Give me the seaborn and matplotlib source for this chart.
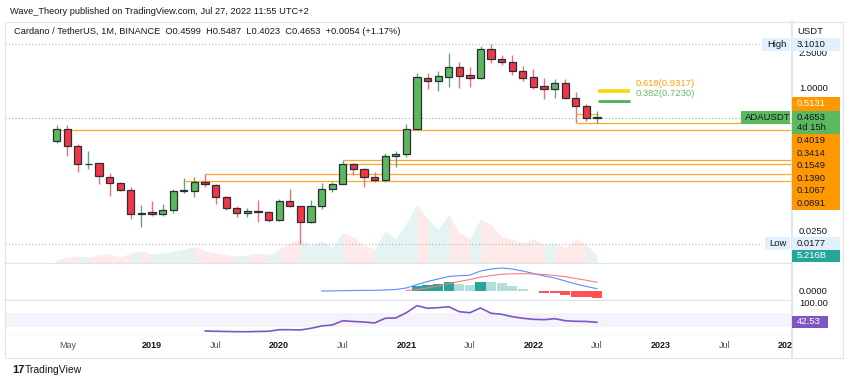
import matplotlib
matplotlib.use("Agg")
import matplotlib.pyplot as plt
from matplotlib.patches import Rectangle
import numpy as np
import pandas as pd
import seaborn as sns

# ADA/USDT monthly candles, Apr 2018 .. Jul 2022
months = pd.date_range("2018-04-01", "2022-07-01", freq="MS")
opens = [0.256, 0.3414, 0.219, 0.139, 0.141, 0.100, 0.0851, 0.0702, 0.0387, 0.0401,
         0.0381, 0.0429, 0.0696, 0.0702, 0.0879, 0.0813, 0.0591, 0.0445, 0.0391, 0.0412,
         0.0401, 0.0329, 0.0537, 0.0464, 0.031, 0.0472, 0.0733, 0.0834, 0.1390, 0.122,
         0.100, 0.0925, 0.171, 0.1813, 0.345, 1.295, 1.198, 1.339, 1.722, 1.375,
         1.305, 2.742, 2.117, 1.944, 1.552, 1.305, 1.045, 0.967, 1.129, 0.758,
         0.628, 0.4599]
highs = [0.387, 0.387, 0.235, 0.194, 0.145, 0.110, 0.0886, 0.0778, 0.0489, 0.0542,
         0.0501, 0.0727, 0.0982, 0.1008, 0.1067, 0.0834, 0.0616, 0.0472, 0.0445, 0.0553,
         0.0412, 0.0570, 0.0727, 0.0472, 0.0547, 0.0850, 0.0886, 0.1549, 0.145, 0.126,
         0.113, 0.1846, 0.1975, 0.391, 1.463, 1.463, 1.552, 2.454, 1.944, 1.708,
         2.964, 3.101, 2.349, 2.349, 1.753, 1.622, 1.285, 1.262, 1.252, 0.895,
         0.661, 0.5487]
lows = [0.243, 0.172, 0.115, 0.122, 0.0834, 0.0612, 0.0696, 0.0335, 0.0272, 0.0367,
        0.0367, 0.0391, 0.0656, 0.0591, 0.0778, 0.0493, 0.0431, 0.0351, 0.0353, 0.0316,
        0.031, 0.0323, 0.0464, 0.0177, 0.0305, 0.0434, 0.0684, 0.0828, 0.1045, 0.0766,
        0.0886, 0.0886, 0.1305, 0.169, 0.337, 0.974, 0.933, 1.018, 1.008, 1.018,
        1.262, 1.894, 1.799, 1.40, 1.198, 0.967, 0.747, 0.766, 0.758, 0.4019,
        0.423, 0.4023]
closes = [0.3414, 0.223, 0.139, 0.1405, 0.102, 0.0857, 0.0709, 0.0387, 0.0394, 0.0381,
          0.0426, 0.0696, 0.0702, 0.0879, 0.0834, 0.0601, 0.0449, 0.0391, 0.0412, 0.0403,
          0.0329, 0.0537, 0.0472, 0.031, 0.0469, 0.0733, 0.0828, 0.1390, 0.123, 0.1008,
          0.0933, 0.171, 0.1813, 0.345, 1.305, 1.198, 1.339, 1.708, 1.375, 1.305,
          2.742, 2.101, 1.959, 1.564, 1.305, 1.034, 0.967, 1.129, 0.766, 0.628,
          0.4599, 0.4653]
# volume, billions of ADA
volumes = [2.0, 4.0, 4.7, 4.0, 5.3, 6.0, 4.0, 6.7, 8.0, 6.0,
           6.7, 8.0, 9.3, 10.7, 8.0, 6.7, 5.3, 4.7, 5.3, 6.7,
           5.3, 9.3, 13.3, 16.0, 12.0, 14.7, 10.7, 20.0, 17.3, 12.0,
           9.3, 21.3, 16.0, 26.7, 38.7, 29.3, 22.7, 32.0, 20.0, 16.0,
           29.3, 25.3, 17.3, 16.0, 13.3, 16.0, 12.0, 13.3, 10.0, 16.0,
           12.0, 5.216]

# MACD line (from May 2020), signal line (from Jan 2021), histogram (from Feb 2021)
macd_line = [-0.5, -0.4, -0.2, 0.0, 0.1, 0.2, 0.5, 1.0, 2.5, 6.0,
             9.0, 11.5, 14.0, 14.8, 15.3, 19.5, 21.5, 22.5, 21.5, 19.5,
             17.0, 14.5, 12.5, 9.5, 6.5, 4.0, 1.8]
signal_line = [0.0, 1.0, 2.6, 4.5, 6.8, 9.0, 11.0, 13.3, 15.0, 16.2,
               16.7, 16.8, 16.6, 16.0, 15.0, 13.8, 12.0, 10.2, 8.2]
macd_hist = [4.5, 5.5, 6.5, 8.2, 6.4, 6.0, 8.8, 8.2, 7.2,
             4.5, 1.5, -0.3, -2.2, -2.8, -4.8, -6.5, -6.8, -7.2]

# RSI (from Jun 2019)
rsi = [17.7, 16.9, 16.3, 15.7, 15.7, 16.3, 16.9, 21.4, 21.4, 20.6,
       25.4, 32.0, 34.9, 47.1, 44.9, 43.4, 40.6, 54.0, 54.9, 70.0,
       90.0, 82.6, 84.3, 87.1, 72.9, 70.0, 83.4, 68.3, 65.4, 58.6,
       54.0, 51.1, 50.0, 52.9, 47.1, 45.4, 44.9, 42.53]

# horizontal levels drawn by the author: price, first month index, last month index
level_prices = [0.3414, 0.4019, 0.5131, 0.1549, 0.1390, 0.1067, 0.0891]
level_starts = [-0.44, 49.1, 49.1, 27.0, 27.0, 14.0, 12.1]
level_ends = [None, None, 51.1, None, None, None, None]

tick_months = [1, 9, 15, 21, 27, 33, 39, 45, 51, 57, 63, 69]
tick_labels = ["May", "2019", "Jul", "2020", "Jul", "2021", "Jul", "2022", "Jul", "2023", "Jul", "2024"]

sns.set_theme(style="white")
plt.rcParams["font.family"] = ["Liberation Sans", "DejaVu Sans"]

W, H = 850, 382
fig = plt.figure(figsize=(W / 100, H / 100), dpi=100)
fig.patch.set_facecolor("white")


def px_axes(x0, y0, x1, y1):
    return fig.add_axes([x0 / W, 1 - y1 / H, (x1 - x0) / W, (y1 - y0) / H])


def box(x0, y0, x1, y1, color, **kw):
    fig.add_artist(Rectangle((x0 / W, 1 - y1 / H), (x1 - x0) / W, (y1 - y0) / H,
                             transform=fig.transFigure, facecolor=color,
                             edgecolor="none", **kw))


def ftext(x, y, s, **kw):
    kw.setdefault("fontsize", 6.8)
    kw.setdefault("va", "center")
    fig.text(x / W, 1 - y / H, s, **kw)


XMIN, XMAX = -4.88, 69.4
x = np.arange(len(months))
o, h, l, c = map(np.array, (opens, highs, lows, closes))
up = c >= o

GREEN, RED, EDGE = "#5cb85c", "#f23645", "#2a2e39"
LINE = "#e0e3eb"

# ---- volume (behind the price panel)
ax_vol = px_axes(5, 22, 792, 263)
vol = np.array(volumes)
for i in range(len(x) - 1):
    col = "#26a69a" if up[i + 1] else "#ef5350"
    ax_vol.fill_between([x[i], x[i + 1]], 0, [vol[i], vol[i + 1]], color=col,
                        alpha=0.12, linewidth=0)
ax_vol.set_xlim(XMIN, XMAX)
ax_vol.set_ylim(0, 160)
ax_vol.axis("off")

# ---- price panel
ax = px_axes(5, 22, 792, 263)
ax.patch.set_alpha(0)
ax.set_yscale("log")
ax.set_xlim(XMIN, XMAX)
ax.set_ylim(0.01081, 5.51)

ax.vlines(x[up], l[up], h[up], color="#6b9e8c", linewidth=1.0, zorder=2)
ax.vlines(x[~up], l[~up], h[~up], color="#e5737f", linewidth=1.0, zorder=2)
body_lo = np.minimum(o, c)
body_hi = np.maximum(o, c) * 1.006
ax.bar(x, body_hi - body_lo, bottom=body_lo, width=0.68,
       color=np.where(up, GREEN, RED), edgecolor=EDGE, linewidth=0.9, zorder=3)

for p, s, e in zip(level_prices, level_starts, level_ends):
    ax.hlines(p, s, XMAX if e is None else e, color="#ffa726", linewidth=0.9, zorder=1)

ax.hlines(0.9317, 51.07, 54.08, color="#ffd600", linewidth=2.6, zorder=2)
ax.hlines(0.7230, 51.07, 54.08, color="#4caf50", linewidth=2.0, zorder=2)

ax.hlines(3.101, XMIN, 66.3, color="#b2b5be", linewidth=0.8, linestyles=(0, (1, 2)))
ax.hlines(0.0177, XMIN, 66.6, color="#b2b5be", linewidth=0.8, linestyles=(0, (1, 2)))
ax.hlines(0.4653, XMIN, 64.6, color="#7cc47f", linewidth=0.8, linestyles=(0, (1, 2)))

ax.yaxis.tick_right()
ax.set_yticks([2.5, 1.0, 0.025])
ax.set_yticklabels(["2.5000", "1.0000", "0.0250"])
ax.yaxis.set_minor_locator(matplotlib.ticker.NullLocator())
ax.tick_params(axis="y", length=0, pad=5, labelsize=6.8, labelcolor="#131722")
ax.set_xticks([])

# ---- MACD panel
ax_m = px_axes(5, 264, 792, 300)
k = 0.025
hv = np.array(macd_hist)
prev = np.concatenate([[0], hv[:-1]])
hist_cols = np.where(hv >= 0, np.where(hv >= prev, "#26a69a", "#b2dfdb"),
                     np.where(hv < prev, "#ff5252", "#ffcdd2"))
ax_m.bar(x[34:], hv * k, width=0.96, color=hist_cols, linewidth=0)
sns.lineplot(x=x[25:], y=np.array(macd_line) * k, ax=ax_m, color="#5b8cff", linewidth=0.8)
sns.lineplot(x=x[33:], y=np.array(signal_line) * k, ax=ax_m, color="#f77c80", linewidth=0.8)
ax_m.set_xlim(XMIN, XMAX)
ax_m.set_ylim(-9.5 * k, 26.5 * k)
ax_m.yaxis.tick_right()
ax_m.set_yticks([0.0])
ax_m.set_yticklabels(["0.0000"])
ax_m.tick_params(axis="y", length=0, pad=5, labelsize=6.8, labelcolor="#131722")
ax_m.set_xticks([])

# ---- RSI panel
ax_r = px_axes(5, 301, 792, 336)
ax_r.axhspan(30, 70, color="#7e57c2", alpha=0.07, linewidth=0)
sns.lineplot(x=x[14:], y=rsi, ax=ax_r, color="#7e57c2", linewidth=1.2)
ax_r.set_xlim(XMIN, XMAX)
ax_r.set_ylim(3.4, 103.4)
ax_r.yaxis.tick_right()
ax_r.set_yticks([100])
ax_r.set_yticklabels(["100.00"])
ax_r.tick_params(axis="y", length=0, pad=5, labelsize=6.8, labelcolor="#131722")
ax_r.set_xticks([])

# ---- time axis
ax_t = px_axes(5, 336, 792, 358)
ax_t.set_xlim(XMIN, XMAX)
ax_t.set_ylim(0, 1)
ax_t.set_xticks([])
ax_t.set_yticks([])
for tm, tl in zip(tick_months, tick_labels):
    bold = tl.isdigit()
    ax_t.text(tm, 0.55, tl, ha="center", va="center", fontsize=6.5,
              fontweight="bold" if bold else "normal",
              color="#131722" if bold else "#50535e", clip_on=True)

for a in (ax_vol, ax, ax_m, ax_r, ax_t):
    for sp in a.spines.values():
        sp.set_visible(False)
for a in (ax, ax_m, ax_r):
    a.spines["bottom"].set_visible(True)
    a.spines["bottom"].set_color(LINE)
    a.spines["bottom"].set_linewidth(1.0)
    a.spines["right"].set_visible(True)
    a.spines["right"].set_color(LINE)
ax_t.spines["right"].set_visible(True)
ax_t.spines["right"].set_color(LINE)

# outer frame
fig.add_artist(Rectangle((5 / W, 1 - 358 / H), 838 / W, 336 / H, transform=fig.transFigure,
                         facecolor="none", edgecolor=LINE, linewidth=0.8))

# ---- header texts
ftext(10, 12, "Wave_Theory published on TradingView.com, Jul 27, 2022 11:55 UTC+2",
      fontsize=6.7, color="#131722")
ftext(14, 32, "Cardano / TetherUS, 1M, BINANCE  O0.4599  H0.5487  L0.4023  C0.4653  +0.0054 (+1.17%)",
      fontsize=6.7, color="#131722")
ftext(797, 31, "USDT", fontsize=6.8, color="#131722")

# fib labels
ftext(636, 84, "0.618(0.9317)", fontsize=6.8, color="#ffa000")
ftext(636, 93, "0.382(0.7230)", fontsize=6.8, color="#66bb6a")

# ---- price scale labels
box(762, 38, 790, 51, "#e3effd")
ftext(767, 44.5, "High", color="#131722")
box(792, 38, 840, 51, "#e3effd")
ftext(797, 44.5, "3.1010", color="#131722")

box(792, 97, 840, 111, "#ff9800")
ftext(797, 104, "0.5131", color="white")

box(741, 111, 790, 124, GREEN)
ftext(745, 117.5, "ADAUSDT", color="#131722")
box(792, 111, 840, 134, GREEN)
ftext(797, 117.5, "0.4653", color="#131722")
ftext(797, 127.5, "4d 15h", color="#131722")

orange_labels = ["0.4019", "0.3414", "0.1549", "0.1390", "0.1067", "0.0891"]
for j, t in enumerate(orange_labels):
    yc = 140.5 + 12.6 * j
    box(792, yc - 6.3, 840, yc + 6.3, "#ff9800")
    ftext(797, yc, t, color="#131722")

box(765, 237, 790, 250, "#e3effd")
ftext(769, 243.5, "Low", color="#131722")
box(792, 237, 840, 250, "#e3effd")
ftext(797, 243.5, "0.0177", color="#131722")

box(792, 250, 840, 262, "#26a69a")
ftext(797, 256, "5.216B", color="white")

box(792, 316, 828, 328, "#7e57c2")
ftext(797, 322, "42.53", color="white")

# logo
ftext(12, 370, "17", fontsize=8, fontweight="bold", color="#131722")
ftext(25, 370, "TradingView", fontsize=7.5, color="#131722")

fig.savefig("out.png", dpi=100, facecolor="white")
